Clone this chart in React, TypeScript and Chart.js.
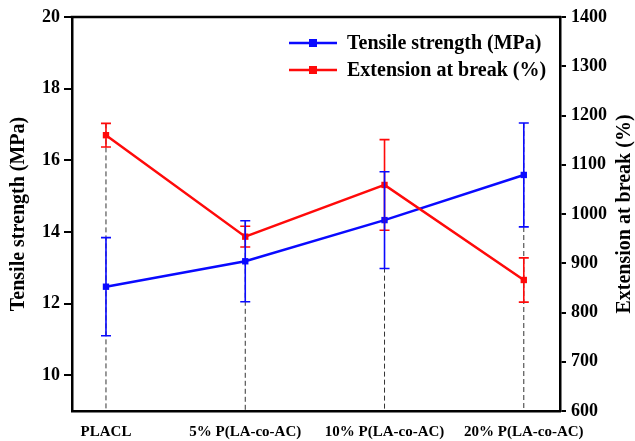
import { useEffect, useRef } from 'react';
import { Chart, registerables } from 'chart.js';
Chart.register(...registerables);

const categories = ['PLACL', '5% P(LA-co-AC)', '10% P(LA-co-AC)', '20% P(LA-co-AC)'];
const tensile = [12.47, 13.18, 14.33, 15.59];
const tensileErr = [1.37, 1.13, 1.35, 1.45];
const extension = [1160, 954, 1059, 866];
const extensionErr = [24, 21, 92, 45];
const leftTicks = [10, 12, 14, 16, 18, 20];
const rightTicks = [600, 700, 800, 900, 1000, 1100, 1200, 1300, 1400];
const tensileLabel = 'Tensile strength (MPa)';
const extensionLabel = 'Extension at break (%)';

const SERIF = "'Liberation Serif', 'Times New Roman', serif";
const BLUE = '#0a0aff';
const RED = '#ff0a0a';

export default function App() {
  const ref = useRef<HTMLCanvasElement>(null);
  useEffect(() => {
    document.body.style.margin = '0';
    const canvas = ref.current!;

    const errorSets = [extensionErr, tensileErr];

    const dashPlugin = {
      id: 'dashLines',
      beforeDatasetsDraw(chart: any) {
        const { ctx, chartArea, scales } = chart;
        ctx.save();
        ctx.strokeStyle = '#333';
        ctx.lineWidth = 1;
        ctx.setLineDash([5, 3]);
        categories.forEach((_, i) => {
          const x = scales.x.getPixelForValue(i);
          const tops = [
            scales.y1.getPixelForValue(extension[i] + extensionErr[i]),
            scales.y.getPixelForValue(tensile[i] + tensileErr[i]),
          ];
          const top = Math.min(...tops);
          ctx.beginPath();
          ctx.moveTo(x, top);
          ctx.lineTo(x, chartArea.bottom);
          ctx.stroke();
        });
        ctx.restore();
      },
    };

    const errorPlugin = {
      id: 'errorBars',
      afterDatasetsDraw(chart: any) {
        const { ctx, scales } = chart;
        ctx.save();
        chart.data.datasets.forEach((ds: any, di: number) => {
          const ys = scales[ds.yAxisID];
          const errs = errorSets[di];
          ctx.strokeStyle = ds.borderColor;
          ctx.lineWidth = 1.6;
          ds.data.forEach((p: any, i: number) => {
            const x = scales.x.getPixelForValue(p.x);
            const t = ys.getPixelForValue(p.y + errs[i]);
            const b = ys.getPixelForValue(p.y - errs[i]);
            ctx.beginPath();
            ctx.moveTo(x, t);
            ctx.lineTo(x, b);
            ctx.moveTo(x - 5, t);
            ctx.lineTo(x + 5, t);
            ctx.moveTo(x - 5, b);
            ctx.lineTo(x + 5, b);
            ctx.stroke();
          });
        });
        ctx.restore();
      },
    };

    const framePlugin = {
      id: 'frameAndLegend',
      afterDraw(chart: any) {
        const { ctx, chartArea, width } = chart;
        ctx.save();
        ctx.strokeStyle = '#000';
        ctx.lineWidth = 2.5;
        ctx.beginPath();
        ctx.moveTo(chartArea.left - 1.25, chartArea.top);
        ctx.lineTo(chartArea.right + 1.25, chartArea.top);
        ctx.stroke();

        // right axis title, reading bottom to top
        ctx.save();
        ctx.translate(width - 10, (chartArea.top + chartArea.bottom) / 2);
        ctx.rotate(-Math.PI / 2);
        ctx.fillStyle = '#000';
        ctx.font = `bold 20px ${SERIF}`;
        ctx.textAlign = 'center';
        ctx.textBaseline = 'middle';
        ctx.fillText(extensionLabel, 0, 0);
        ctx.restore();

        const items = [
          { label: tensileLabel, color: BLUE, y: chartArea.top + 26 },
          { label: extensionLabel, color: RED, y: chartArea.top + 53 },
        ];
        const x0 = chartArea.left + 217;
        items.forEach((it) => {
          ctx.strokeStyle = it.color;
          ctx.fillStyle = it.color;
          ctx.lineWidth = 2.5;
          ctx.beginPath();
          ctx.moveTo(x0, it.y);
          ctx.lineTo(x0 + 48, it.y);
          ctx.stroke();
          ctx.fillRect(x0 + 24 - 4, it.y - 4, 8, 8);
          ctx.fillStyle = '#000';
          ctx.font = `bold 20px ${SERIF}`;
          ctx.textAlign = 'left';
          ctx.textBaseline = 'middle';
          ctx.fillText(it.label, x0 + 58, it.y + 1);
        });
        ctx.restore();
      },
    };

    const chart = new Chart(canvas, {
      type: 'line',
      data: {
        datasets: [
          {
            label: extensionLabel,
            data: extension.map((v, i) => ({ x: i, y: v })),
            yAxisID: 'y1',
            borderColor: RED,
            backgroundColor: RED,
            borderWidth: 2.5,
            pointStyle: 'rect',
            pointRadius: 4.5,
            pointBorderWidth: 0,
            order: 0,
          },
          {
            label: tensileLabel,
            data: tensile.map((v, i) => ({ x: i, y: v })),
            yAxisID: 'y',
            borderColor: BLUE,
            backgroundColor: BLUE,
            borderWidth: 2.5,
            pointStyle: 'rect',
            pointRadius: 4.5,
            pointBorderWidth: 0,
            order: 1,
          },
        ],
      },
      options: {
        animation: false,
        responsive: true,
        maintainAspectRatio: false,
        layout: { padding: { top: 17, left: 0, right: 0, bottom: 0 } },
        plugins: { legend: { display: false }, tooltip: { enabled: false } },
        scales: {
          x: {
            type: 'linear',
            min: -0.244,
            max: 3.26,
            afterBuildTicks: (s: any) => {
              s.ticks = categories.map((_, i) => ({ value: i }));
            },
            afterFit: (s: any) => {
              s.height = 30;
            },
            ticks: {
              callback: (v: any) => categories[v as number] ?? '',
              color: '#000',
              font: { family: SERIF, size: 15, weight: 'bold' },
              padding: 12,
              maxRotation: 0,
              autoSkip: false,
            },
            grid: { display: true, drawOnChartArea: false, drawTicks: false },
            border: { display: true, color: '#000', width: 2.5 },
          },
          y: {
            type: 'linear',
            position: 'left',
            min: 9,
            max: 20,
            afterBuildTicks: (s: any) => {
              s.ticks = leftTicks.map((v) => ({ value: v }));
            },
            afterFit: (s: any) => {
              s.width = 72;
            },
            ticks: {
              callback: (v: any) => String(v),
              color: '#000',
              font: { family: SERIF, size: 18, weight: 'bold' },
              padding: 4,
            },
            grid: { drawOnChartArea: false, drawTicks: true, tickLength: 8, color: '#000', lineWidth: 2 },
            border: { display: true, color: '#000', width: 2.5 },
            title: {
              display: true,
              text: tensileLabel,
              color: '#000',
              font: { family: SERIF, size: 20, weight: 'bold' },
              padding: { top: 7, bottom: 0 },
            },
          },
          y1: {
            type: 'linear',
            position: 'right',
            min: 600,
            max: 1400,
            afterBuildTicks: (s: any) => {
              s.ticks = rightTicks.map((v) => ({ value: v }));
            },
            afterFit: (s: any) => {
              s.width = 75;
            },
            ticks: {
              callback: (v: any) => String(v),
              color: '#000',
              font: { family: SERIF, size: 18, weight: 'bold' },
              padding: 5,
            },
            grid: { drawOnChartArea: false, drawTicks: true, tickLength: 6, color: '#000', lineWidth: 2 },
            border: { display: true, color: '#000', width: 2.5 },
            title: { display: false },
          },
        },
      } as any,
      plugins: [dashPlugin, errorPlugin, framePlugin],
    });
    return () => chart.destroy();
  }, []);
  return (
    <div style={{ width: 635, height: 441, position: 'relative' }}>
      <canvas ref={ref} />
    </div>
  );
}
